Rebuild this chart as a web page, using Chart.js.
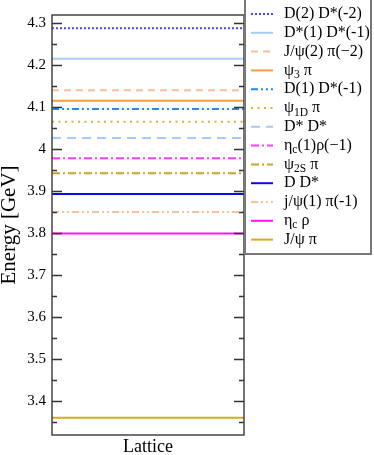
<!DOCTYPE html>
<html><head><meta charset="utf-8">
<script src="https://cdn.jsdelivr.net/npm/chart.js@4"></script>
<style>html,body{margin:0;padding:0;background:#fff}canvas{display:block}</style>
</head><body>
<canvas id="c" width="374" height="455"></canvas>
<script>
// ---- data ----
const states = ['D(2) D*(-2)','D*(1) D*(-1)','J/ψ(2) π(−2)','ψ_{3} π','D(1) D*(-1)','ψ_{1D} π','D* D*','η_{c}(1)ρ(−1)','ψ_{2S} π','D D*','j/ψ(1) π(-1)','η_{c} ρ','J/ψ π'];
const energies = [4.2885,4.216,4.141,4.116,4.096,4.066,4.027,3.979,3.943,3.894,3.851,3.800,3.361];
const xCategory = ['Lattice'];
const yTickValues = [3.4,3.5,3.6,3.7,3.8,3.9,4.0,4.1,4.2,4.3];
const yTickLabels = ['3.4','3.5','3.6','3.7','3.8','3.9','4','4.1','4.2','4.3'];
const yMinorTicks = [3.35,3.45,3.55,3.65,3.75,3.85,3.95,4.05,4.15,4.25];
const yRange = [3.32, 4.32];
// ---- styles ----
const lineColors = ['#4646ff','#a8cdf3','#f4c29c','#ff9b3a','#2288ff','#d8b23a','#a9c9f2','#ff3cff','#c9a22c','#0a0ae6','#f4c29c','#ff14ff','#d9a920'];
const lineDashes = [[2,2],[],[7,5],[],[7,3,2,3,2,3],[2,4.5],[9,6],[8,3,2,3],[8,3,2,3],[],[7,3,2,3,2,3],[],[]];
const FONT = 'Liberation Serif';

const framePlugin = {
  id:'frame',
  afterDatasetsDraw(chart){
    const {ctx, chartArea:a, scales:{y}} = chart;
    ctx.save();
    ctx.strokeStyle = '#333'; ctx.lineWidth = 1.5;
    ctx.beginPath();
    yTickValues.forEach(v=>{ const p = y.getPixelForValue(v);
      ctx.moveTo(a.left,p); ctx.lineTo(a.left+10,p); ctx.moveTo(a.right,p); ctx.lineTo(a.right-10,p); });
    yMinorTicks.forEach(v=>{ const p = y.getPixelForValue(v);
      ctx.moveTo(a.left,p); ctx.lineTo(a.left+5,p); ctx.moveTo(a.right,p); ctx.lineTo(a.right-5,p); });
    ctx.stroke();
    ctx.strokeStyle = '#444'; ctx.lineWidth = 1.5;
    ctx.strokeRect(a.left, a.top, a.right-a.left, a.bottom-a.top);
    ctx.restore();
  }
};

function parseLabel(s){
  const parts=[]; const re=/_\{([^}]*)\}/g; let last=0, m;
  while((m=re.exec(s))){ if(m.index>last) parts.push({t:s.slice(last,m.index),sub:false}); parts.push({t:m[1],sub:true}); last=re.lastIndex; }
  if(last<s.length) parts.push({t:s.slice(last),sub:false});
  return parts;
}

const legendPlugin = {
  id:'boxlegend',
  afterDraw(chart){
    const {ctx, chartArea:a} = chart;
    const bx = a.right+1, by = -2, bw = 126, bh = 256;
    ctx.save();
    ctx.fillStyle='#fff'; ctx.fillRect(bx,by,bw,bh);
    ctx.strokeStyle='#777'; ctx.lineWidth=2; ctx.strokeRect(bx,by,bw,bh);
    chart.data.datasets.forEach((ds,i)=>{
      const yy = 14 + i*18.8;
      ctx.save();
      ctx.strokeStyle = ds.borderColor; ctx.lineWidth = ds.borderWidth; ctx.setLineDash(ds.borderDash||[]);
      ctx.beginPath(); ctx.moveTo(bx+6, yy); ctx.lineTo(bx+28, yy); ctx.stroke();
      ctx.restore();
      let x = bx+39;
      ctx.fillStyle='#000'; ctx.textBaseline='middle'; ctx.textAlign='left';
      parseLabel(ds.label).forEach(p=>{
        ctx.font = (p.sub? '11.5px ':'16px ') + FONT;
        ctx.fillText(p.t, x, p.sub? yy+4.5 : yy);
        x += ctx.measureText(p.t).width;
      });
    });
    ctx.restore();
  }
};

new Chart(document.getElementById('c'), {
  type:'scatter',
  data:{ datasets: states.map((s,i)=>({
    label:s, data:[{x:0,y:energies[i]},{x:1,y:energies[i]}], showLine:true,
    borderColor:lineColors[i], backgroundColor:lineColors[i], borderWidth:2,
    borderDash:lineDashes[i], pointRadius:0, pointHoverRadius:0, borderCapStyle:'butt'
  }))},
  options:{
    responsive:false, animation:false, devicePixelRatio:1,
    layout:{padding:{top:1,right:130,left:0,bottom:0}},
    plugins:{legend:{display:false}, tooltip:{enabled:false}},
    scales:{
      x:{type:'linear', min:0, max:1, grid:{display:false, drawTicks:false}, border:{display:false},
        ticks:{display:false},
        title:{display:true, text:xCategory[0], color:'#000', padding:0, font:{family:FONT, size:18, lineHeight:0.85}},
        afterFit(s){ s.height = 20; }},
      y:{type:'linear', min:yRange[0], max:yRange[1],
        afterBuildTicks(s){ s.ticks = yTickValues.map(v=>({value:v})); },
        ticks:{callback:(v,i)=>yTickLabels[i], color:'#000', padding:6, font:{family:FONT, size:15}},
        grid:{display:false, drawTicks:false}, border:{display:false},
        title:{display:true, text:'Energy [GeV]', color:'#000', padding:0, font:{family:FONT, size:21, lineHeight:0.86}},
        afterFit(s){ s.width = 52; }}
    }
  },
  plugins:[framePlugin, legendPlugin]
});
</script>
</body></html>
